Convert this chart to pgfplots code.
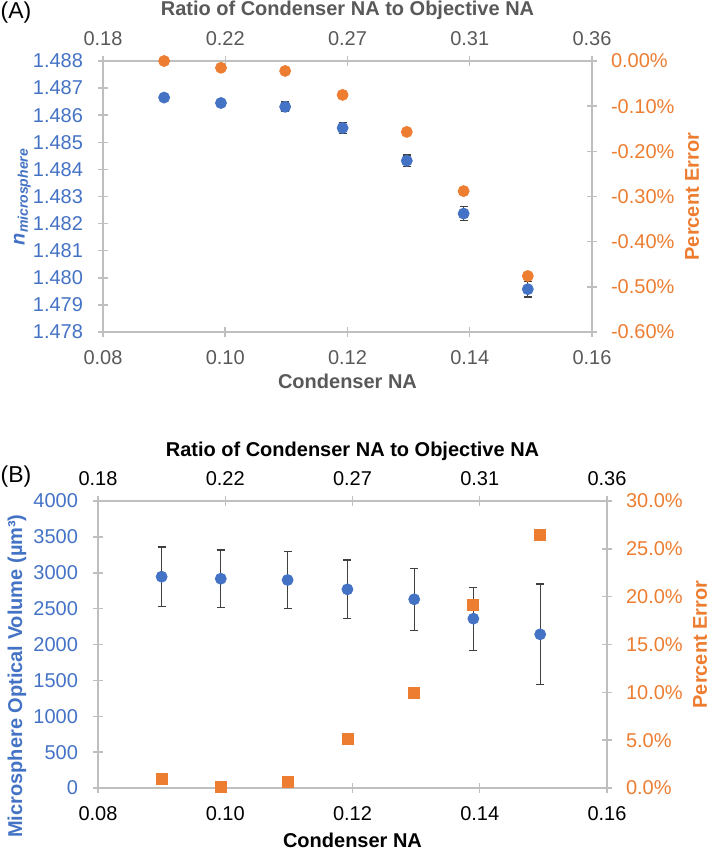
\documentclass[border=0pt]{standalone}
\usepackage{fontspec}
\setmainfont{Liberation Sans}
\usepackage{pgfplots}
\pgfplotsset{compat=1.18}
\definecolor{cblue}{HTML}{4472C4}
\definecolor{corange}{HTML}{ED7D31}
\definecolor{axgray}{HTML}{BFBFBF}
\definecolor{txgray}{HTML}{595959}
\definecolor{errgray}{HTML}{404040}

% panel A data (refractive index vs condenser NA)
\pgfplotstableread{
x      y        e
0.0900 1.48665  0.00005
0.0993 1.48645  0.00005
0.1098 1.48631  0.00018
0.1192 1.48553  0.00020
0.1297 1.48432  0.00021
0.1390 1.48237  0.00026
0.1495 1.47958  0.00029
}\nA
\pgfplotstableread{
x      y
0.0900  0.000
0.0993 -0.015
0.1098 -0.022
0.1192 -0.075
0.1297 -0.157
0.1390 -0.288
0.1495 -0.476
}\pA
% panel B data (optical volume vs condenser NA)
\pgfplotstableread{
x      y     e
0.0900 2945  415
0.0993 2917  400
0.1098 2899  395
0.1192 2769  410
0.1297 2630  430
0.1390 2360  440
0.1495 2142  700
}\vB
\pgfplotstableread{
x      y
0.0900  0.91
0.0993  0.14
0.1098  0.63
0.1192  5.15
0.1297  9.90
0.1390 19.10
0.1495 26.50
}\pB

\newcommand\lfont{\fontsize{10}{12}\selectfont\bfseries}
% padding so the tick labels sit further from the axis lines
\newcommand\lt[1]{#1\hspace*{4pt}}
\newcommand\rt[1]{\hspace*{3.5pt}#1}
\newcommand\bt[1]{\rule{0pt}{10pt}#1}
\newcommand\tp[1]{\rule[-1.5pt]{0pt}{1.5pt}#1}

\pgfplotsset{
  base/.style={
    scale only axis,
    xmin=0.08, xmax=0.16,
    xtick={0.08,0.10,0.12,0.14,0.16},
    tick align=center,
    major tick length=5pt,
    axis line style={draw=axgray, line width=0.75pt},
    major tick style={draw=axgray, line width=0.75pt},
    /pgf/number format/assume math mode=true,
    tick label style={font=\fontsize{10}{12}\selectfont},
  },
  lside/.style={
    axis y line*=left, axis x line*=bottom,
    xticklabels={\bt{0.08},\bt{0.10},\bt{0.12},\bt{0.14},\bt{0.16}},
    yticklabel style={text=cblue},
    every axis y label/.style={rotate=90, anchor=center, text=cblue, font=\lfont},
    every axis x label/.style={anchor=center, font=\lfont},
  },
  rside/.style={
    axis y line*=right, axis x line*=top,
    xticklabels={\tp{0.18},\tp{0.22},\tp{0.27},\tp{0.31},\tp{0.36}},
    yticklabel style={text=corange},
    every axis y label/.style={rotate=90, anchor=center, text=corange, font=\lfont},
    every axis x label/.style={anchor=center, font=\lfont},
  },
  ebar/.style={
    only marks, mark=*, mark size=2.75pt, color=cblue,
    error bars/.cd, y dir=both, y explicit,
    error bar style={errgray, line width=0.6pt},
    error mark options={rotate=90, mark size=2pt, errgray, line width=0.6pt},
  },
}

\begin{document}
\begin{tikzpicture}
\path[use as bounding box] (0,0) rectangle (354.5pt,-425pt);

% ---------------- panel A ----------------
\begin{axis}[base, lside,
  at={(51.5pt,-166pt)}, anchor=south west,
  width=244.5pt, height=135.5pt,
  ymin=1.478, ymax=1.488,
  ytick={1.478,1.479,1.480,1.481,1.482,1.483,1.484,1.485,1.486,1.487,1.488},
  yticklabels={\lt{1.478},\lt{1.479},\lt{1.480},\lt{1.481},\lt{1.482},\lt{1.483},\lt{1.484},\lt{1.485},\lt{1.486},\lt{1.487},\lt{1.488}},
  xticklabel style={text=txgray},
  xlabel={Condenser NA},
  xlabel style={at={(axis description cs:0.5,-0.181)}, text=txgray},
  ylabel={\itshape n\textsubscript{microsphere}},
  ylabel style={at={(axis description cs:-0.165,0.5)}},
]
\addplot[ebar] table[x=x, y=y, y error=e] {\nA};
\end{axis}

\begin{axis}[base, rside,
  at={(51.5pt,-166pt)}, anchor=south west,
  width=244.5pt, height=135.5pt,
  ymin=-0.6, ymax=0,
  ytick={-0.6,-0.5,-0.4,-0.3,-0.2,-0.1,0},
  yticklabels={\rt{-0.60\%},\rt{-0.50\%},\rt{-0.40\%},\rt{-0.30\%},\rt{-0.20\%},\rt{-0.10\%},\rt{0.00\%}},
  xticklabel style={text=txgray},
  xlabel={Ratio of Condenser NA to Objective NA},
  xlabel style={at={(axis description cs:0.5,1.188)}, text=txgray},
  ylabel={Percent Error},
  ylabel style={at={(axis description cs:1.2045,0.5)}},
]
\addplot[only marks, mark=*, mark size=2.75pt, color=corange] table[x=x, y=y] {\pA};
\end{axis}

% ---------------- panel B ----------------
\begin{axis}[base, lside,
  at={(49pt,-394pt)}, anchor=south west,
  width=254.5pt, height=143.5pt,
  ymin=0, ymax=4000,
  ytick={0,500,1000,1500,2000,2500,3000,3500,4000},
  yticklabels={\lt{0},\lt{500},\lt{1000},\lt{1500},\lt{2000},\lt{2500},\lt{3000},\lt{3500},\lt{4000}},
  xlabel={Condenser NA},
  xlabel style={at={(axis description cs:0.5,-0.181)}},
  ylabel={Microsphere Optical Volume (µm³)},
  ylabel style={at={(axis description cs:-0.159,0.39)}},
]
\addplot[ebar] table[x=x, y=y, y error=e] {\vB};
\end{axis}

\begin{axis}[base, rside,
  at={(49pt,-394pt)}, anchor=south west,
  width=254.5pt, height=143.5pt,
  ymin=0, ymax=30,
  ytick={0,5,10,15,20,25,30},
  yticklabels={\rt{0.0\%},\rt{5.0\%},\rt{10.0\%},\rt{15.0\%},\rt{20.0\%},\rt{25.0\%},\rt{30.0\%}},
  xlabel={Ratio of Condenser NA to Objective NA},
  xlabel style={at={(axis description cs:0.5,1.174)}},
  ylabel={Percent Error},
  ylabel style={at={(axis description cs:1.183,0.5)}},
]
\addplot[only marks, mark=square*, mark size=2.75pt, color=corange] table[x=x, y=y] {\pB};
\end{axis}

\node[font=\fontsize{11.5}{13}\selectfont] at (8pt,-6.5pt) {(A)};
\node[font=\fontsize{11.5}{13}\selectfont] at (8pt,-238.5pt) {(B)};
\end{tikzpicture}
\end{document}
